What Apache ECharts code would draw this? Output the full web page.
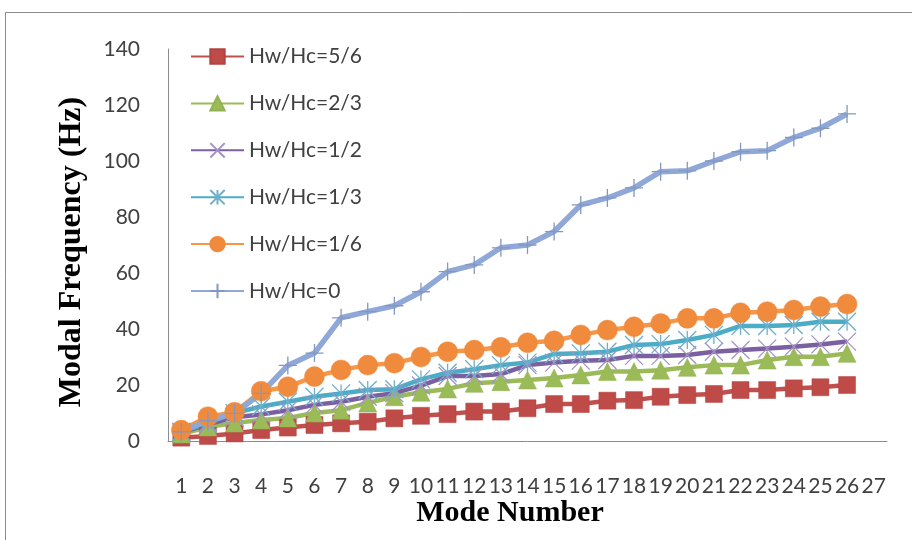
<!DOCTYPE html>
<html>
<head>
<meta charset="utf-8">
<script src="https://cdn.jsdelivr.net/npm/echarts@6/dist/echarts.min.js"></script>
<style>
  html, body { margin: 0; padding: 0; background: #fff; }
  #chart { width: 912px; height: 540px; }
</style>
</head>
<body>
<div id="chart"></div>
<script>
// Mode numbers on the category axis (27 slots, 26 computed modes)
const modes = ['1','2','3','4','5','6','7','8','9','10','11','12','13','14','15','16','17','18','19','20','21','22','23','24','25','26','27'];

// Modal frequencies (Hz) for each wall/column height ratio
const hw56 = [1.2, 1.8, 2.7, 3.9, 4.8, 5.7, 6.3, 6.9, 8.1, 9.0, 9.6, 10.5, 10.5, 11.7, 13.2, 13.2, 14.4, 14.6, 15.8, 16.4, 16.8, 18.2, 18.2, 18.8, 19.2, 20.0];
const hw23 = [2.5, 5.0, 6.4, 7.5, 8.2, 10.0, 11.0, 13.6, 15.8, 17.4, 18.6, 20.6, 21.2, 21.8, 22.5, 23.6, 24.8, 24.8, 25.3, 26.3, 27.1, 27.1, 28.9, 30.1, 30.1, 31.3];
const hw12 = [3.0, 6.0, 8.5, 9.5, 11.0, 12.9, 14.0, 15.8, 17.1, 19.8, 23.2, 23.2, 23.9, 27.1, 28.0, 28.7, 28.9, 30.4, 30.4, 30.7, 31.9, 32.5, 33.0, 33.7, 34.5, 35.5];
const hw13 = [3.3, 6.5, 10.0, 12.3, 14.0, 15.8, 17.0, 18.2, 18.5, 22.0, 24.4, 25.6, 27.1, 28.0, 31.1, 31.3, 31.9, 34.3, 34.6, 36.1, 37.9, 41.1, 41.1, 41.4, 42.6, 42.6];
const hw16 = [3.9, 8.7, 10.3, 17.8, 19.4, 23.0, 25.4, 27.1, 27.8, 30.0, 31.9, 32.5, 33.5, 35.1, 35.8, 37.9, 39.6, 40.8, 42.0, 43.8, 43.8, 45.8, 46.2, 46.8, 48.0, 48.9];
const hw0  = [3.3, 7.3, 9.9, 17.0, 27.0, 31.4, 44.0, 46.2, 48.3, 53.3, 60.5, 62.9, 69.0, 70.0, 74.8, 84.3, 86.8, 90.4, 96.2, 96.5, 100.0, 103.3, 103.7, 108.4, 111.7, 116.8];

const seriesNames = ['Hw/Hc=5/6', 'Hw/Hc=2/3', 'Hw/Hc=1/2', 'Hw/Hc=1/3', 'Hw/Hc=1/6', 'Hw/Hc=0'];
const xTitle = 'Mode Number';
const yTitle = 'Modal Frequency (Hz)';

// Stroke-only marker shapes
const xMark = 'path://M0,0L10,10M10,0L0,10';
const starMark = 'path://M5,0L5,10M0,0L10,10M10,0L0,10';
const plusMark = 'path://M5,0L5,10M0,5L10,5';

function lineSeries(name, data, lineColor, symbol, size, fill, stroke, strokeW, width) {
  return {
    name: name,
    type: 'line',
    data: data,
    symbol: symbol,
    symbolSize: size,
    showAllSymbol: true,
    lineStyle: { color: lineColor, width: width },
    itemStyle: {
      color: fill,
      borderColor: stroke,
      borderWidth: strokeW
    },
    emphasis: { disabled: true },
    animation: false
  };
}

const chart = echarts.init(document.getElementById('chart'), null, { renderer: 'canvas' });

chart.setOption({
  backgroundColor: '#ffffff',
  animation: false,
  graphic: [
    {
      type: 'rect',
      shape: { x: 5.5, y: 12.5, width: 940, height: 560 },
      style: { fill: 'none', stroke: '#8c8c8c', lineWidth: 1 },
      silent: true
    },
    {
      type: 'text',
      x: 510, y: 513,
      style: {
        text: xTitle, fontFamily: 'Liberation Serif', fontWeight: 'bold', fontSize: 30,
        fill: '#000', textAlign: 'center', textVerticalAlign: 'middle'
      },
      silent: true
    },
    {
      type: 'text',
      x: 72, y: 252,
      rotation: Math.PI / 2,
      style: {
        text: yTitle, fontFamily: 'Liberation Serif', fontWeight: 'bold', fontSize: 32,
        fill: '#000', textAlign: 'center', textVerticalAlign: 'middle'
      },
      silent: true
    }
  ],
  grid: { left: 168, right: 25, top: 49, bottom: 99, containLabel: false },
  legend: {
    orient: 'vertical',
    left: 190,
    top: 46,
    padding: 0,
    itemWidth: 53,
    itemHeight: 18,
    itemGap: 25.9,
    data: seriesNames,
    textStyle: { fontFamily: 'Lato', fontSize: 21, color: '#404040', lineHeight: 18 },
    selectedMode: false
  },
  xAxis: {
    type: 'category',
    data: modes,
    boundaryGap: true,
    axisLine: { lineStyle: { color: '#8c8c8c', width: 1 } },
    axisTick: { show: false },
    axisLabel: { interval: 0, margin: 35, fontFamily: 'Lato', fontSize: 21, color: '#404040' },
    splitLine: { show: false }
  },
  yAxis: {
    type: 'value',
    min: 0,
    max: 140,
    interval: 20,
    axisLine: { show: true, lineStyle: { color: '#8c8c8c', width: 1 } },
    axisTick: { show: false },
    axisLabel: { margin: 28, fontFamily: 'Lato', fontSize: 21, color: '#404040' },
    splitLine: { show: false }
  },
  series: [
    lineSeries(seriesNames[0], hw56, '#C0504D', 'rect', 17, '#BE4B48', '#B04542', 0.5, 4.5),
    lineSeries(seriesNames[1], hw23, '#9BBB59', 'triangle', 18, '#9BBB59', '#93B253', 0.5, 4.5),
    lineSeries(seriesNames[2], hw12, '#7B5FA0', xMark, 18, 'none', '#A294C4', 1.3, 4.5),
    lineSeries(seriesNames[3], hw13, '#4BACC6', starMark, 18, 'none', '#6FAFCB', 1.3, 4.5),
    lineSeries(seriesNames[4], hw16, '#F79646', 'circle', 20, '#F08A3C', '#F08A3C', 0.5, 4.5),
    lineSeries(seriesNames[5], hw0, '#8FA8D8', plusMark, 18, 'none', '#8497C0', 1.3, 5.5)
  ]
});
</script>
</body>
</html>
